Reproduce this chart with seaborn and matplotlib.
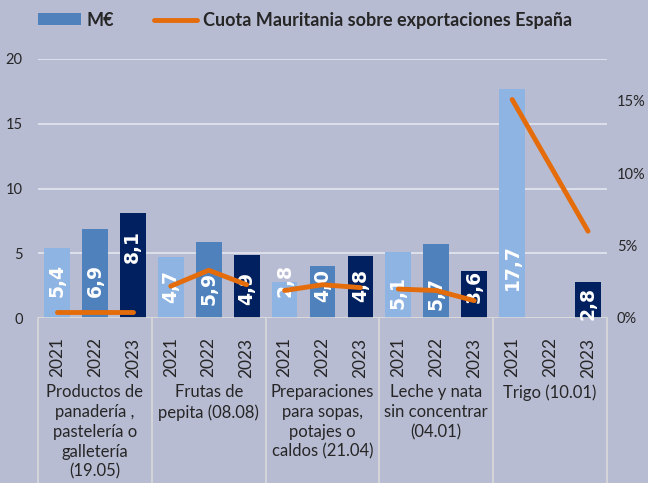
import numpy as np
import pandas as pd
import matplotlib.pyplot as plt
import seaborn as sb
from matplotlib.patches import Patch
from matplotlib.lines import Line2D
from matplotlib.transforms import blended_transform_factory

# Datos
grupos = ['Productos de\npanadería ,\npastelería o\ngalletería\n(19.05)',
          'Frutas de\npepita (08.08)',
          'Preparaciones\npara sopas,\npotajes o\ncaldos (21.04)',
          'Leche y nata\nsin concentrar\n(04.01)',
          'Trigo (10.01)']
anios = ['2021', '2022', '2023']
millones = [5.4, 6.9, 8.1,
            4.7, 5.9, 4.9,
            2.8, 4.0, 4.8,
            5.1, 5.7, 3.6,
            17.7, np.nan, 2.8]
cuota = [0.4, 0.4, 0.4,
         2.2, 3.3, 2.3,
         1.9, 2.3, 2.1,
         2.0, 1.9, 1.2,
         15.1, np.nan, 6.0]
# posición vertical (centro) de las etiquetas de cada barra
pos_etiqueta = [2.9, 2.9, 5.5,
                2.4, 2.3, 2.3,
                2.9, 2.5, 2.5,
                2.0, 1.9, 2.4,
                3.9, 0, 1.1]

fondo = '#B8BCD3'
colores = {'2021': '#8EB4E3', '2022': '#4F81BD', '2023': '#002060'}
naranja = '#E46C0A'

sb.set_style('white')
plt.rcParams['font.family'] = ['Lato', 'DejaVu Sans']

df = pd.DataFrame({
    'pos': np.arange(15),
    'anio': anios * 5,
    'grupo': np.repeat(np.arange(5), 3),
    'valor': millones,
    'cuota': cuota,
})

fig = plt.figure(figsize=(6.48, 4.83), dpi=100, facecolor=fondo)
ax = fig.add_axes([38 / 648, 1 - 318 / 483, 569 / 648, 259 / 483])
ax.set_facecolor(fondo)

sb.barplot(data=df, x='pos', y='valor', hue='anio', palette=colores,
           dodge=False, native_scale=True, width=0.68, legend=False, ax=ax,
           saturation=1, linewidth=0)

ax.set_xlim(-0.5, 14.5)
ax.set_ylim(0, 20)
ax.set_yticks([0, 5, 10, 15, 20])
ax.set_yticklabels(['0', '5', '10', '15', '20'], fontsize=10.5)
ax.grid(axis='y', color='#E4E6EE', linewidth=1.2)
ax.set_axisbelow(True)
for s in ax.spines.values():
    s.set_visible(False)
ax.axhline(0, color='#D9D9D9', linewidth=1.2)
ax.tick_params(axis='y', length=0, pad=11)

ax.set_xticks(df['pos'])
ax.set_xticklabels(df['anio'], rotation=90, fontsize=12.5)
ax.tick_params(axis='x', length=0, pad=14)
ax.set_xlabel('')
ax.set_ylabel('')

# separadores de grupo
for b in [-0.5, 2.5, 5.5, 8.5, 11.5, 14.5]:
    ax.axvline(b, ymin=-0.64, ymax=0, color='#D9D9D9', linewidth=1.2, clip_on=False)

trans = blended_transform_factory(ax.transData, ax.transAxes)
for i, g in enumerate(grupos):
    ax.text(3 * i + 1, -0.255, g, transform=trans, ha='center', va='top',
            fontsize=12, linespacing=1.3)

# etiquetas de valor
for p, v, y in zip(df['pos'], millones, pos_etiqueta):
    if np.isnan(v):
        continue
    ax.text(p, y, f'{v:.1f}'.replace('.', ','), rotation=90, ha='center',
            va='center', color='white', fontsize=13.5, fontweight='bold',
            family='DejaVu Sans')

# eje secundario con la cuota
ax2 = ax.twinx()
sb.lineplot(data=df.dropna(subset=['cuota']), x='pos', y='cuota', units='grupo',
            estimator=None, color=naranja, linewidth=3.5, ax=ax2,
            solid_capstyle='round')
ax2.set_ylim(0, 17.9)
ax2.set_yticks([0, 5, 10, 15])
ax2.set_yticklabels(['0%', '5%', '10%', '15%'], fontsize=10.5)
ax2.tick_params(axis='y', length=0, pad=7)
ax2.set_ylabel('')
ax2.set_xlabel('')
for s in ax2.spines.values():
    s.set_visible(False)

# leyenda
handles = [Patch(facecolor='#4F81BD', edgecolor='none'),
           Line2D([0], [0], color=naranja, linewidth=3.5, solid_capstyle='round')]
fig.legend(handles, ['M€', 'Cuota Mauritania sobre exportaciones España'],
           loc='center left', bbox_to_anchor=(38 / 648, 0.958), ncol=2, frameon=False,
           prop={'weight': 'bold', 'size': 13}, handlelength=2.4, handleheight=0.65,
           columnspacing=2.2, handletextpad=0.3, borderpad=0, borderaxespad=0)

fig.savefig('out.png', dpi=100, facecolor=fondo)
